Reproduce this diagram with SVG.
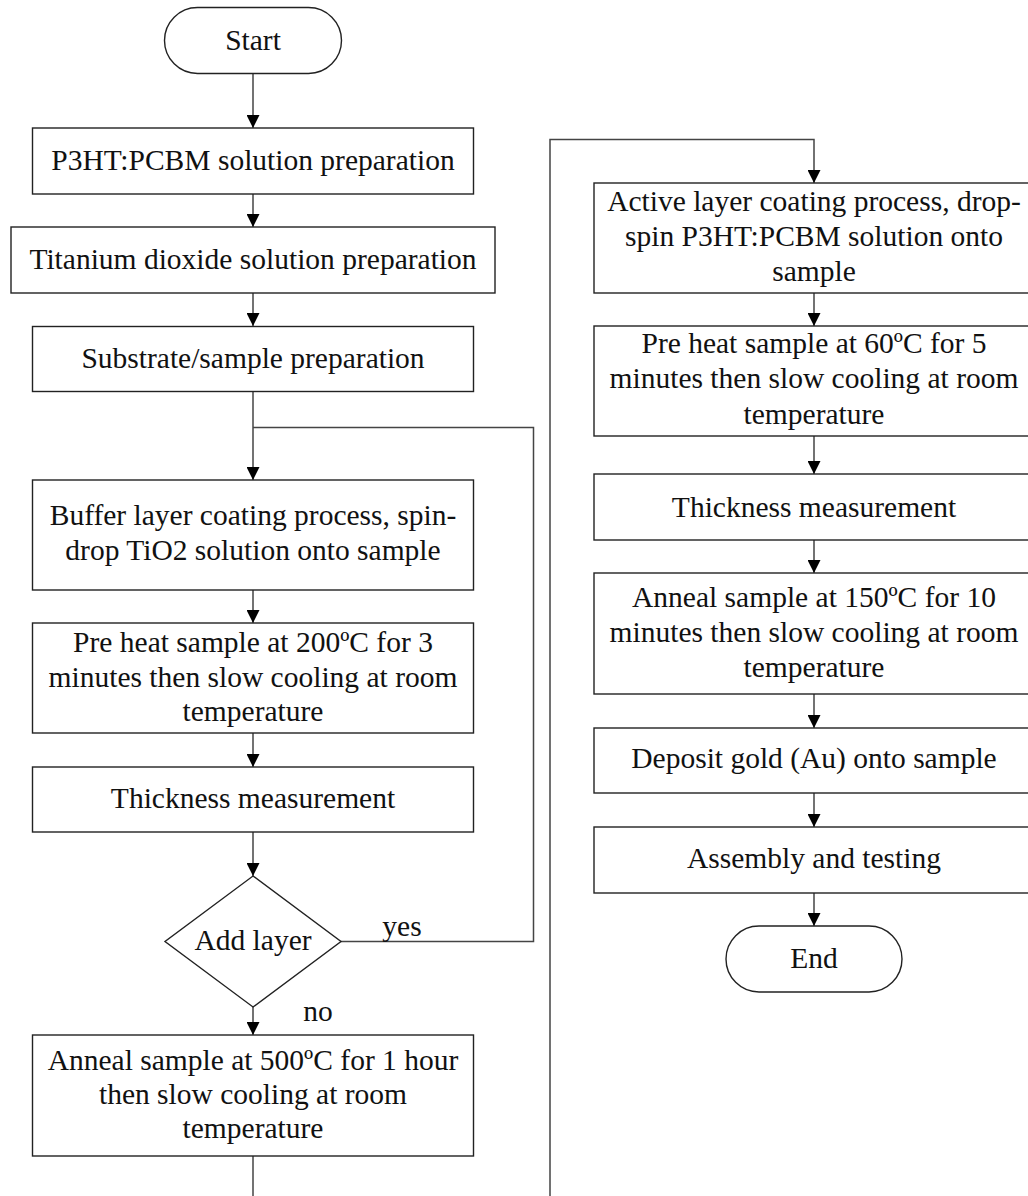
<svg xmlns="http://www.w3.org/2000/svg" width="1028" height="1196" viewBox="0 0 1028 1196">
<defs>
<marker id="arr" markerWidth="13" markerHeight="13" refX="13" refY="6.5" orient="auto" markerUnits="userSpaceOnUse">
<path d="M0,0 L13,6.5 L0,13 Z" fill="#000"/>
</marker>
<style>
.box{fill:#fff;stroke:#222;stroke-width:1.4}
.t{font-family:"Liberation Serif","Times New Roman",serif;font-size:29.5px;fill:#111;text-anchor:middle}
.c{fill:none;stroke:#444;stroke-width:1.5}
</style>
</defs>
<rect width="1028" height="1196" fill="#fff"/>
<g id="connectors">
<path class="c" d="M253,73 V128" marker-end="url(#arr)"/>
<path class="c" d="M253,194 V227" marker-end="url(#arr)"/>
<path class="c" d="M253,293 V326" marker-end="url(#arr)"/>
<path class="c" d="M253,392 V480" marker-end="url(#arr)"/>
<path class="c" d="M341,941.5 H533.5 V427.5 H253"/>
<path class="c" d="M253,590 V623" marker-end="url(#arr)"/>
<path class="c" d="M253,733 V767" marker-end="url(#arr)"/>
<path class="c" d="M253,832 V876" marker-end="url(#arr)"/>
<path class="c" d="M253,1007 V1035" marker-end="url(#arr)"/>
<path class="c" d="M253,1156 V1196"/>
<path class="c" d="M550,1196 V139.5 H814 V183" marker-end="url(#arr)"/>
<path class="c" d="M814,293 V326" marker-end="url(#arr)"/>
<path class="c" d="M814,436 V474" marker-end="url(#arr)"/>
<path class="c" d="M814,540 V573" marker-end="url(#arr)"/>
<path class="c" d="M814,694 V728" marker-end="url(#arr)"/>
<path class="c" d="M814,793 V827" marker-end="url(#arr)"/>
<path class="c" d="M814,893 V926" marker-end="url(#arr)"/>
<text class="t" x="402" y="936">yes</text>
<text class="t" x="318" y="1021">no</text>
</g>
<g id="start">
<rect class="box" x="164.5" y="7.5" width="177" height="66" rx="33" ry="33"/>
<text class="t" x="253" y="50">Start</text>
</g>
<g id="p3ht">
<rect class="box" x="32.5" y="128" width="441" height="66"/>
<text class="t" x="253" y="170">P3HT:PCBM solution preparation</text>
</g>
<g id="tio2prep">
<rect class="box" x="11" y="227" width="484" height="66"/>
<text class="t" x="253" y="269">Titanium dioxide solution preparation</text>
</g>
<g id="substrate">
<rect class="box" x="32.5" y="326.5" width="441" height="65"/>
<text class="t" x="253" y="368">Substrate/sample preparation</text>
</g>
<g id="buffer">
<rect class="box" x="32.5" y="480" width="441" height="110"/>
<text class="t" x="253" y="525">Buffer layer coating process, spin-<tspan x="253" dy="34.5">drop TiO2 solution onto sample</tspan></text>
</g>
<g id="preheat200">
<rect class="box" x="32.5" y="623" width="441" height="110"/>
<text class="t" x="253" y="652">Pre heat sample at 200ºC for 3<tspan x="253" dy="34.5">minutes then slow cooling at room</tspan><tspan x="253" dy="34">temperature</tspan></text>
</g>
<g id="thick1">
<rect class="box" x="32.5" y="767" width="441" height="65"/>
<text class="t" x="253" y="808">Thickness measurement</text>
</g>
<g id="addlayer">
<polygon class="box" points="253,876 341,941.5 253,1007 165,941.5"/>
<text class="t" x="253" y="950">Add layer</text>
</g>
<g id="anneal500">
<rect class="box" x="32.5" y="1035" width="441" height="121"/>
<text class="t" x="253" y="1070">Anneal sample at 500ºC for 1 hour<tspan x="253" dy="33.5">then slow cooling at room</tspan><tspan x="253" dy="34">temperature</tspan></text>
</g>
<g id="active">
<rect class="box" x="594" y="183" width="441" height="110"/>
<text class="t" x="814" y="211">Active layer coating process, drop-<tspan x="814" dy="35">spin P3HT:PCBM solution onto</tspan><tspan x="814" dy="35">sample</tspan></text>
</g>
<g id="preheat60">
<rect class="box" x="594" y="326" width="441" height="110"/>
<text class="t" x="814" y="353">Pre heat sample at 60ºC for 5<tspan x="814" dy="35">minutes then slow cooling at room</tspan><tspan x="814" dy="36">temperature</tspan></text>
</g>
<g id="thick2">
<rect class="box" x="594" y="474" width="441" height="66"/>
<text class="t" x="814" y="517">Thickness measurement</text>
</g>
<g id="anneal150">
<rect class="box" x="594" y="573" width="441" height="121"/>
<text class="t" x="814" y="607">Anneal sample at 150ºC for 10<tspan x="814" dy="35">minutes then slow cooling at room</tspan><tspan x="814" dy="35">temperature</tspan></text>
</g>
<g id="deposit">
<rect class="box" x="594" y="728" width="441" height="65"/>
<text class="t" x="814" y="768">Deposit gold (Au) onto sample</text>
</g>
<g id="assembly">
<rect class="box" x="594" y="827" width="441" height="66"/>
<text class="t" x="814" y="868">Assembly and testing</text>
</g>
<g id="end">
<rect class="box" x="726" y="926" width="176" height="66" rx="33" ry="33"/>
<text class="t" x="814" y="968">End</text>
</g>
</svg>
